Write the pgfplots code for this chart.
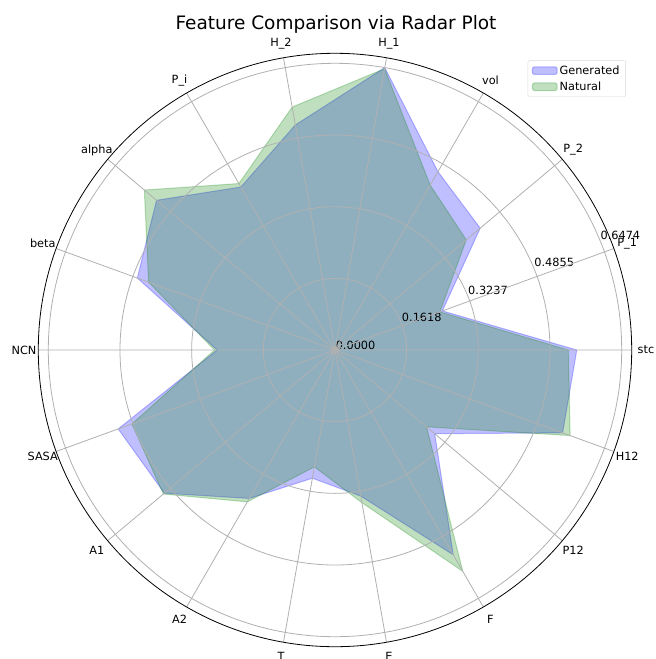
\documentclass[border=0pt]{standalone}
\usepackage{fontspec}
\setmainfont{DejaVu Sans}
\usepackage{pgfplots}
\pgfplotsset{compat=1.18}
\usepgfplotslibrary{polar}

\definecolor{gridgray}{HTML}{B0B0B0}
\definecolor{mplblue}{HTML}{0000FF}
\definecolor{mplgreen}{HTML}{008000}

\newcommand{\lblfont}{\fontsize{11.3}{13}\selectfont}

\begin{document}
\begin{tikzpicture}
\begin{polaraxis}[
  at={(0pt,0pt)}, anchor=center,
  scale only axis,
  width=593.4pt, height=593.4pt,
  ymin=0, ymax=0.67,
  clip=false,
  xtick={0,20,...,340},
  xticklabels={},
  ytick={0,0.1618,0.3237,0.4855,0.6474},
  yticklabels={},
  grid=major,
  major grid style={gridgray, line width=0.8pt},
  major tick length=0pt,
  separate axis lines,
  x axis line style={black, line width=0.8pt},
  y axis line style={draw=none},
  axis on top,
  legend cell align=left,
  legend image code/.code={\filldraw[#1] (0pt,-3.8pt) rectangle (24.7pt,3.8pt);},
  legend style={at={(0.99,0.988)}, anchor=north east,
    font=\lblfont,
    draw=black!15, rounded corners=2pt, fill=white,
    inner xsep=4pt, inner ysep=3pt, row sep=2pt,
    nodes={inner sep=2pt}},
]
% Generated
\addplot[fill=mplblue, fill opacity=0.25, draw=mplblue, draw opacity=0.25, line width=1pt]
  coordinates {(0,0.546) (20,0.258) (40,0.428) (60,0.465) (80,0.6474) (100,0.516)
    (120,0.425) (140,0.526) (160,0.475) (180,0.266) (200,0.521) (220,0.503)
    (240,0.387) (260,0.294) (280,0.335) (300,0.534) (320,0.294) (340,0.547) (360,0.546)};
\addlegendentry{Generated}
% Natural
\addplot[fill=mplgreen, fill opacity=0.25, draw=mplgreen, draw opacity=0.25, line width=1pt]
  coordinates {(0,0.527) (20,0.252) (40,0.387) (60,0.430) (80,0.645) (100,0.557)
    (120,0.434) (140,0.562) (160,0.448) (180,0.272) (200,0.488) (220,0.506)
    (240,0.396) (260,0.268) (280,0.350) (300,0.577) (320,0.270) (340,0.565) (360,0.527)};
\addlegendentry{Natural}

% radial tick labels at 22.5 degrees
\foreach \r/\lab in {0/0.0000,0.1618/0.1618,0.3237/0.3237,0.4855/0.4855,0.6474/0.6474}{
  \edef\tmp{\noexpand\node[anchor=south west, inner sep=0.6pt,
    font=\noexpand\lblfont]
    at (axis cs:22.5,\r) {\lab};}
  \tmp
}
\end{polaraxis}

% category labels, centred a fixed distance outside the circle
\foreach \a/\lab in {0/stc,20/P\_1,40/P\_2,60/vol,80/H\_1,100/H\_2,120/P\_i,
  140/alpha,160/beta,180/NCN,200/SASA,220/A1,240/A2,260/T,280/E,300/F,320/P12,340/H12}{
  \node[font=\lblfont, inner sep=0pt] at (\a:311pt) {\lab};
}
\node[anchor=base, font=\fontsize{18.5}{22}\selectfont, inner sep=0pt]
  at (1pt,320pt) {Feature Comparison via Radar Plot};

\pgfresetboundingbox
\path[use as bounding box] (-335pt,-309pt) rectangle (321pt,350pt);
\end{tikzpicture}
\end{document}
